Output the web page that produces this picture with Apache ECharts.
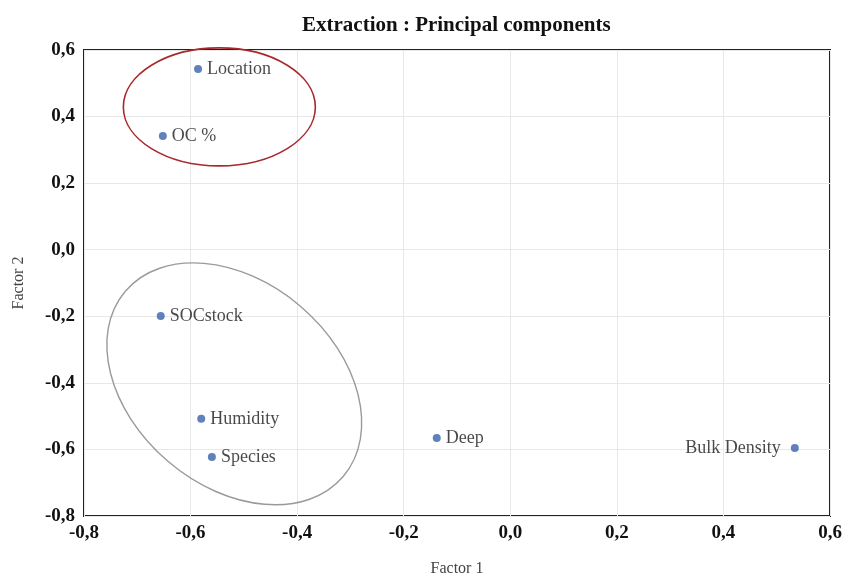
<!DOCTYPE html>
<html>
<head>
<meta charset="utf-8">
<script src="https://cdn.jsdelivr.net/npm/echarts@6/dist/echarts.min.js"></script>
</head>
<body style="margin:0;background:#fff">
    <div id="main" style="width: 848px;height:575px;"></div>
<script type="text/javascript">
    // variables and their loadings on the two factors
    var names = ['Location', 'OC %', 'SOCstock', 'Humidity', 'Species', 'Deep', 'Bulk Density'];
    var factor1 = [-0.586, -0.652, -0.656, -0.580, -0.560, -0.138, 0.534];
    var factor2 = [0.543, 0.342, -0.199, -0.508, -0.623, -0.566, -0.596];
    // groups circled on the plot: centre in factor units
    var groupCenters = [[-0.546, 0.429], [-0.518, -0.403]];

    var serif = '"Liberation Serif", "DejaVu Serif", serif';
    var fmt = function (v) { return v.toFixed(1).replace('.', ','); };

    var points = names.map(function (n, i) {
        var item = { name: n, value: [factor1[i], factor2[i]] };
        if (factor1[i] > 0.3) {
            item.label = { position: 'left', distance: 10 };
        }
        return item;
    });

    var myChart = echarts.init(document.getElementById('main'));
    var option = {
        animation: false,
        title: {
            text: 'Extraction : Principal components',
            left: 297,
            top: 10,
            textStyle: { fontFamily: serif, fontSize: 21, fontWeight: 'bold', color: '#111' }
        },
        grid: {
            left: 84, right: 18, top: 50, bottom: 59,
            outerBoundsMode: 'none', containLabel: false,
            show: true, borderColor: '#222', borderWidth: 2
        },
        xAxis: {
            type: 'value', min: -0.8, max: 0.6, interval: 0.2,
            name: 'Factor 1', nameLocation: 'middle', nameGap: 45,
            nameTextStyle: { fontFamily: serif, fontSize: 16, color: '#444' },
            axisLine: { show: false }, axisTick: { show: false },
            axisLabel: { formatter: fmt, margin: 8, fontFamily: serif, fontSize: 19, fontWeight: 'bold', color: '#111' },
            splitLine: { lineStyle: { color: '#e8e8e8' } }
        },
        yAxis: {
            type: 'value', min: -0.8, max: 0.6, interval: 0.2,
            name: 'Factor 2', nameLocation: 'middle', nameGap: 57,
            nameTextStyle: { fontFamily: serif, fontSize: 16, color: '#444' },
            axisLine: { show: false }, axisTick: { show: false },
            axisLabel: { formatter: fmt, margin: 9, fontFamily: serif, fontSize: 19, fontWeight: 'bold', color: '#111' },
            splitLine: { lineStyle: { color: '#e8e8e8' } }
        },
        series: [{
            type: 'scatter',
            symbolSize: 8,
            itemStyle: { color: '#3a62ab' },
            data: points,
            label: {
                show: true, position: 'right', distance: 5,
                formatter: '{b}',
                fontFamily: serif, fontSize: 18, color: '#1a1a1a'
            }
        }]
    };
    myChart.setOption(option);

    var c1 = myChart.convertToPixel('grid', groupCenters[0]);
    var c2 = myChart.convertToPixel('grid', groupCenters[1]);
    myChart.setOption({
        graphic: [{
            type: 'ellipse', x: c1[0], y: c1[1], silent: true,
            shape: { cx: 0, cy: 0, rx: 96, ry: 59 },
            style: { fill: 'none', stroke: '#a8282c', lineWidth: 1.6 }
        }, {
            type: 'ellipse', x: c2[0], y: c2[1], rotation: -0.705, silent: true,
            shape: { cx: 0, cy: 0, rx: 143, ry: 102 },
            style: { fill: 'none', stroke: '#9a9a9a', lineWidth: 1.4 }
        }]
    });
</script>
</body>
</html>
